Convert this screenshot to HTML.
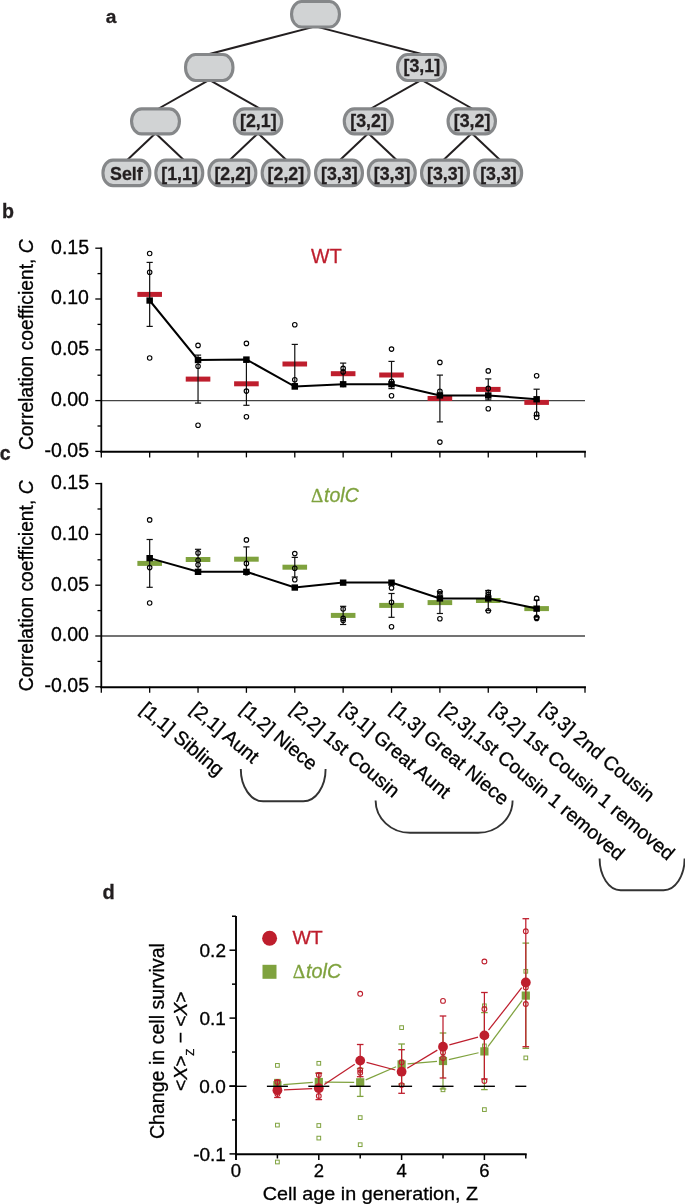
<!DOCTYPE html>
<html><head><meta charset="utf-8"><style>
html,body{margin:0;padding:0;background:#fff;}
svg{display:block;font-family:"Liberation Sans",sans-serif;will-change:transform;}
text{stroke-width:0.3px;}
</style></head><body>
<svg width="685" height="1204" viewBox="0 0 685 1204">
<rect width="685" height="1204" fill="#fff"/>
<line x1="315.50" y1="26.40" x2="208.50" y2="54.20" stroke="#231f20" stroke-width="2"/>
<line x1="315.50" y1="26.40" x2="422.50" y2="54.20" stroke="#231f20" stroke-width="2"/>
<line x1="209.25" y1="79.80" x2="158.75" y2="108.50" stroke="#231f20" stroke-width="2"/>
<line x1="209.25" y1="79.80" x2="259.75" y2="108.50" stroke="#231f20" stroke-width="2"/>
<line x1="421.50" y1="79.80" x2="371.00" y2="108.50" stroke="#231f20" stroke-width="2"/>
<line x1="421.50" y1="79.80" x2="472.00" y2="108.50" stroke="#231f20" stroke-width="2"/>
<line x1="155.50" y1="133.20" x2="127.50" y2="159.80" stroke="#231f20" stroke-width="2"/>
<line x1="155.50" y1="133.20" x2="183.50" y2="159.80" stroke="#231f20" stroke-width="2"/>
<line x1="258.05" y1="133.20" x2="230.05" y2="159.80" stroke="#231f20" stroke-width="2"/>
<line x1="258.05" y1="133.20" x2="286.05" y2="159.80" stroke="#231f20" stroke-width="2"/>
<line x1="368.30" y1="133.20" x2="340.30" y2="159.80" stroke="#231f20" stroke-width="2"/>
<line x1="368.30" y1="133.20" x2="396.30" y2="159.80" stroke="#231f20" stroke-width="2"/>
<line x1="471.75" y1="133.20" x2="443.75" y2="159.80" stroke="#231f20" stroke-width="2"/>
<line x1="471.75" y1="133.20" x2="499.75" y2="159.80" stroke="#231f20" stroke-width="2"/>
<rect x="291.55" y="1.55" width="47.90" height="25.50" rx="10" ry="12.5" fill="#d1d3d4" stroke="#858789" stroke-width="3.1"/>
<rect x="185.55" y="54.55" width="47.40" height="25.90" rx="10" ry="12.5" fill="#d1d3d4" stroke="#858789" stroke-width="3.1"/>
<rect x="397.55" y="54.55" width="47.90" height="25.90" rx="10" ry="12.5" fill="#d1d3d4" stroke="#858789" stroke-width="3.1"/>
<text x="403.51" y="71.70" font-size="17.8" font-weight="bold" font-style="normal" fill="#231f20" stroke="#231f20">[3,1]</text>
<rect x="131.55" y="108.85" width="47.90" height="25.00" rx="10" ry="12.5" fill="#d1d3d4" stroke="#858789" stroke-width="3.1"/>
<rect x="234.35" y="108.85" width="47.40" height="25.00" rx="10" ry="12.5" fill="#d1d3d4" stroke="#858789" stroke-width="3.1"/>
<text x="240.06" y="126.55" font-size="17.8" font-weight="bold" font-style="normal" fill="#231f20" stroke="#231f20">[2,1]</text>
<rect x="344.25" y="108.85" width="48.10" height="25.00" rx="10" ry="12.5" fill="#d1d3d4" stroke="#858789" stroke-width="3.1"/>
<text x="350.31" y="126.55" font-size="17.8" font-weight="bold" font-style="normal" fill="#231f20" stroke="#231f20">[3,2]</text>
<rect x="448.05" y="108.85" width="47.40" height="25.00" rx="10" ry="12.5" fill="#d1d3d4" stroke="#858789" stroke-width="3.1"/>
<text x="453.76" y="126.55" font-size="17.8" font-weight="bold" font-style="normal" fill="#231f20" stroke="#231f20">[3,2]</text>
<rect x="102.95" y="160.15" width="46.90" height="25.50" rx="10" ry="12.5" fill="#d1d3d4" stroke="#858789" stroke-width="3.1"/>
<text x="110.10" y="179.90" font-size="17.8" font-weight="bold" font-style="normal" fill="#231f20" stroke="#231f20">Self</text>
<rect x="155.85" y="160.15" width="46.90" height="25.50" rx="10" ry="12.5" fill="#d1d3d4" stroke="#858789" stroke-width="3.1"/>
<text x="161.31" y="179.90" font-size="17.8" font-weight="bold" font-style="normal" fill="#231f20" stroke="#231f20">[1,1]</text>
<rect x="208.95" y="160.15" width="46.90" height="25.50" rx="10" ry="12.5" fill="#d1d3d4" stroke="#858789" stroke-width="3.1"/>
<text x="214.41" y="179.90" font-size="17.8" font-weight="bold" font-style="normal" fill="#231f20" stroke="#231f20">[2,2]</text>
<rect x="262.15" y="160.15" width="46.90" height="25.50" rx="10" ry="12.5" fill="#d1d3d4" stroke="#858789" stroke-width="3.1"/>
<text x="267.61" y="179.90" font-size="17.8" font-weight="bold" font-style="normal" fill="#231f20" stroke="#231f20">[2,2]</text>
<rect x="315.55" y="160.15" width="46.90" height="25.50" rx="10" ry="12.5" fill="#d1d3d4" stroke="#858789" stroke-width="3.1"/>
<text x="321.01" y="179.90" font-size="17.8" font-weight="bold" font-style="normal" fill="#231f20" stroke="#231f20">[3,3]</text>
<rect x="368.35" y="160.15" width="46.90" height="25.50" rx="10" ry="12.5" fill="#d1d3d4" stroke="#858789" stroke-width="3.1"/>
<text x="373.81" y="179.90" font-size="17.8" font-weight="bold" font-style="normal" fill="#231f20" stroke="#231f20">[3,3]</text>
<rect x="421.55" y="160.15" width="46.90" height="25.50" rx="10" ry="12.5" fill="#d1d3d4" stroke="#858789" stroke-width="3.1"/>
<text x="427.01" y="179.90" font-size="17.8" font-weight="bold" font-style="normal" fill="#231f20" stroke="#231f20">[3,3]</text>
<rect x="474.75" y="160.15" width="46.90" height="25.50" rx="10" ry="12.5" fill="#d1d3d4" stroke="#858789" stroke-width="3.1"/>
<text x="480.21" y="179.90" font-size="17.8" font-weight="bold" font-style="normal" fill="#231f20" stroke="#231f20">[3,3]</text>
<text x="105.82" y="22.70" font-size="19.2" font-weight="bold" font-style="normal" fill="#231f20" stroke="#231f20">a</text>
<line x1="101.30" y1="400.60" x2="585.00" y2="400.60" stroke="#444" stroke-width="1.3"/>
<line x1="101.30" y1="247.40" x2="101.30" y2="452.40" stroke="#000" stroke-width="1.8"/>
<line x1="100.40" y1="451.80" x2="585.90" y2="451.80" stroke="#000" stroke-width="1.9"/>
<line x1="101.30" y1="451.40" x2="101.30" y2="457.40" stroke="#000" stroke-width="1.3"/>
<line x1="149.67" y1="451.40" x2="149.67" y2="457.40" stroke="#000" stroke-width="1.3"/>
<line x1="198.04" y1="451.40" x2="198.04" y2="457.40" stroke="#000" stroke-width="1.3"/>
<line x1="246.41" y1="451.40" x2="246.41" y2="457.40" stroke="#000" stroke-width="1.3"/>
<line x1="294.78" y1="451.40" x2="294.78" y2="457.40" stroke="#000" stroke-width="1.3"/>
<line x1="343.15" y1="451.40" x2="343.15" y2="457.40" stroke="#000" stroke-width="1.3"/>
<line x1="391.52" y1="451.40" x2="391.52" y2="457.40" stroke="#000" stroke-width="1.3"/>
<line x1="439.89" y1="451.40" x2="439.89" y2="457.40" stroke="#000" stroke-width="1.3"/>
<line x1="488.26" y1="451.40" x2="488.26" y2="457.40" stroke="#000" stroke-width="1.3"/>
<line x1="536.63" y1="451.40" x2="536.63" y2="457.40" stroke="#000" stroke-width="1.3"/>
<line x1="585.00" y1="451.40" x2="585.00" y2="457.40" stroke="#000" stroke-width="1.3"/>
<line x1="95.30" y1="248.20" x2="101.30" y2="248.20" stroke="#000" stroke-width="1.3"/>
<line x1="97.50" y1="273.60" x2="101.30" y2="273.60" stroke="#000" stroke-width="1.3"/>
<line x1="95.30" y1="299.00" x2="101.30" y2="299.00" stroke="#000" stroke-width="1.3"/>
<line x1="97.50" y1="324.40" x2="101.30" y2="324.40" stroke="#000" stroke-width="1.3"/>
<line x1="95.30" y1="349.80" x2="101.30" y2="349.80" stroke="#000" stroke-width="1.3"/>
<line x1="97.50" y1="375.20" x2="101.30" y2="375.20" stroke="#000" stroke-width="1.3"/>
<line x1="95.30" y1="400.60" x2="101.30" y2="400.60" stroke="#000" stroke-width="1.3"/>
<line x1="97.50" y1="426.00" x2="101.30" y2="426.00" stroke="#000" stroke-width="1.3"/>
<line x1="95.30" y1="451.40" x2="101.30" y2="451.40" stroke="#000" stroke-width="1.3"/>
<text x="51.05" y="253.60" font-size="19.5" font-weight="normal" font-style="normal" fill="#000" stroke="#000">0.15</text>
<text x="51.00" y="304.40" font-size="19.5" font-weight="normal" font-style="normal" fill="#000" stroke="#000">0.10</text>
<text x="51.05" y="355.20" font-size="19.5" font-weight="normal" font-style="normal" fill="#000" stroke="#000">0.05</text>
<text x="51.00" y="406.00" font-size="19.5" font-weight="normal" font-style="normal" fill="#000" stroke="#000">0.00</text>
<text x="44.57" y="456.80" font-size="19.5" font-weight="normal" font-style="normal" fill="#000" stroke="#000">-0.05</text>
<rect x="137.37" y="291.90" width="24.6" height="5" fill="#be1e2d"/>
<rect x="185.74" y="376.60" width="24.6" height="5" fill="#be1e2d"/>
<rect x="234.11" y="381.30" width="24.6" height="5" fill="#be1e2d"/>
<rect x="282.48" y="361.50" width="24.6" height="5" fill="#be1e2d"/>
<rect x="330.85" y="371.20" width="24.6" height="5" fill="#be1e2d"/>
<rect x="379.22" y="372.50" width="24.6" height="5" fill="#be1e2d"/>
<rect x="427.59" y="396.00" width="24.6" height="5" fill="#be1e2d"/>
<rect x="475.96" y="386.90" width="24.6" height="5" fill="#be1e2d"/>
<rect x="524.33" y="399.90" width="24.6" height="5" fill="#be1e2d"/>
<line x1="149.67" y1="262.40" x2="149.67" y2="326.40" stroke="#111" stroke-width="1.2"/>
<line x1="146.57" y1="262.40" x2="152.77" y2="262.40" stroke="#111" stroke-width="1.2"/>
<line x1="146.57" y1="326.40" x2="152.77" y2="326.40" stroke="#111" stroke-width="1.2"/>
<line x1="198.04" y1="355.10" x2="198.04" y2="403.10" stroke="#111" stroke-width="1.2"/>
<line x1="194.94" y1="355.10" x2="201.14" y2="355.10" stroke="#111" stroke-width="1.2"/>
<line x1="194.94" y1="403.10" x2="201.14" y2="403.10" stroke="#111" stroke-width="1.2"/>
<line x1="246.41" y1="362.30" x2="246.41" y2="405.30" stroke="#111" stroke-width="1.2"/>
<line x1="243.31" y1="362.30" x2="249.51" y2="362.30" stroke="#111" stroke-width="1.2"/>
<line x1="243.31" y1="405.30" x2="249.51" y2="405.30" stroke="#111" stroke-width="1.2"/>
<line x1="294.78" y1="344.40" x2="294.78" y2="383.60" stroke="#111" stroke-width="1.2"/>
<line x1="291.68" y1="344.40" x2="297.88" y2="344.40" stroke="#111" stroke-width="1.2"/>
<line x1="291.68" y1="383.60" x2="297.88" y2="383.60" stroke="#111" stroke-width="1.2"/>
<line x1="343.15" y1="363.10" x2="343.15" y2="384.30" stroke="#111" stroke-width="1.2"/>
<line x1="340.05" y1="363.10" x2="346.25" y2="363.10" stroke="#111" stroke-width="1.2"/>
<line x1="340.05" y1="384.30" x2="346.25" y2="384.30" stroke="#111" stroke-width="1.2"/>
<line x1="391.52" y1="361.40" x2="391.52" y2="388.60" stroke="#111" stroke-width="1.2"/>
<line x1="388.42" y1="361.40" x2="394.62" y2="361.40" stroke="#111" stroke-width="1.2"/>
<line x1="388.42" y1="388.60" x2="394.62" y2="388.60" stroke="#111" stroke-width="1.2"/>
<line x1="439.89" y1="375.10" x2="439.89" y2="421.90" stroke="#111" stroke-width="1.2"/>
<line x1="436.79" y1="375.10" x2="442.99" y2="375.10" stroke="#111" stroke-width="1.2"/>
<line x1="436.79" y1="421.90" x2="442.99" y2="421.90" stroke="#111" stroke-width="1.2"/>
<line x1="488.26" y1="378.90" x2="488.26" y2="399.90" stroke="#111" stroke-width="1.2"/>
<line x1="485.16" y1="378.90" x2="491.36" y2="378.90" stroke="#111" stroke-width="1.2"/>
<line x1="485.16" y1="399.90" x2="491.36" y2="399.90" stroke="#111" stroke-width="1.2"/>
<line x1="536.63" y1="389.20" x2="536.63" y2="415.60" stroke="#111" stroke-width="1.2"/>
<line x1="533.53" y1="389.20" x2="539.73" y2="389.20" stroke="#111" stroke-width="1.2"/>
<line x1="533.53" y1="415.60" x2="539.73" y2="415.60" stroke="#111" stroke-width="1.2"/>
<circle cx="149.67" cy="253.50" r="2.25" fill="none" stroke="#000" stroke-width="1.1"/>
<circle cx="149.67" cy="272.30" r="2.25" fill="none" stroke="#000" stroke-width="1.1"/>
<circle cx="149.67" cy="358.00" r="2.25" fill="none" stroke="#000" stroke-width="1.1"/>
<circle cx="198.04" cy="345.40" r="2.25" fill="none" stroke="#000" stroke-width="1.1"/>
<circle cx="198.04" cy="366.30" r="2.25" fill="none" stroke="#000" stroke-width="1.1"/>
<circle cx="198.04" cy="425.30" r="2.25" fill="none" stroke="#000" stroke-width="1.1"/>
<circle cx="246.41" cy="343.40" r="2.25" fill="none" stroke="#000" stroke-width="1.1"/>
<circle cx="246.41" cy="391.10" r="2.25" fill="none" stroke="#000" stroke-width="1.1"/>
<circle cx="246.41" cy="416.80" r="2.25" fill="none" stroke="#000" stroke-width="1.1"/>
<circle cx="294.78" cy="324.80" r="2.25" fill="none" stroke="#000" stroke-width="1.1"/>
<circle cx="294.78" cy="379.80" r="2.25" fill="none" stroke="#000" stroke-width="1.1"/>
<circle cx="294.78" cy="386.00" r="2.25" fill="none" stroke="#000" stroke-width="1.1"/>
<circle cx="343.15" cy="368.40" r="2.25" fill="none" stroke="#000" stroke-width="1.1"/>
<circle cx="343.15" cy="371.90" r="2.25" fill="none" stroke="#000" stroke-width="1.1"/>
<circle cx="343.15" cy="384.50" r="2.25" fill="none" stroke="#000" stroke-width="1.1"/>
<circle cx="391.52" cy="349.10" r="2.25" fill="none" stroke="#000" stroke-width="1.1"/>
<circle cx="391.52" cy="381.40" r="2.25" fill="none" stroke="#000" stroke-width="1.1"/>
<circle cx="391.52" cy="395.70" r="2.25" fill="none" stroke="#000" stroke-width="1.1"/>
<circle cx="439.89" cy="362.40" r="2.25" fill="none" stroke="#000" stroke-width="1.1"/>
<circle cx="439.89" cy="391.20" r="2.25" fill="none" stroke="#000" stroke-width="1.1"/>
<circle cx="439.89" cy="442.10" r="2.25" fill="none" stroke="#000" stroke-width="1.1"/>
<circle cx="488.26" cy="370.90" r="2.25" fill="none" stroke="#000" stroke-width="1.1"/>
<circle cx="488.26" cy="388.40" r="2.25" fill="none" stroke="#000" stroke-width="1.1"/>
<circle cx="488.26" cy="408.70" r="2.25" fill="none" stroke="#000" stroke-width="1.1"/>
<circle cx="536.63" cy="375.80" r="2.25" fill="none" stroke="#000" stroke-width="1.1"/>
<circle cx="536.63" cy="414.00" r="2.25" fill="none" stroke="#000" stroke-width="1.1"/>
<circle cx="536.63" cy="417.50" r="2.25" fill="none" stroke="#000" stroke-width="1.1"/>
<polyline points="149.67,300.50 198.04,360.00 246.41,359.50 294.78,386.50 343.15,384.20 391.52,384.20 439.89,395.40 488.26,395.40 536.63,399.20" fill="none" stroke="#000" stroke-width="2"/>
<rect x="146.42" y="297.40" width="6.5" height="6.3" fill="#000"/>
<rect x="194.79" y="356.90" width="6.5" height="6.3" fill="#000"/>
<rect x="243.16" y="356.40" width="6.5" height="6.3" fill="#000"/>
<rect x="291.53" y="383.40" width="6.5" height="6.3" fill="#000"/>
<rect x="339.90" y="381.10" width="6.5" height="6.3" fill="#000"/>
<rect x="388.27" y="381.10" width="6.5" height="6.3" fill="#000"/>
<rect x="436.64" y="392.30" width="6.5" height="6.3" fill="#000"/>
<rect x="485.01" y="392.30" width="6.5" height="6.3" fill="#000"/>
<rect x="533.38" y="396.10" width="6.5" height="6.3" fill="#000"/>
<line x1="101.30" y1="636.00" x2="585.00" y2="636.00" stroke="#444" stroke-width="1.3"/>
<line x1="101.30" y1="482.80" x2="101.30" y2="687.80" stroke="#000" stroke-width="1.8"/>
<line x1="100.40" y1="687.20" x2="585.90" y2="687.20" stroke="#000" stroke-width="1.9"/>
<line x1="101.30" y1="686.80" x2="101.30" y2="692.80" stroke="#000" stroke-width="1.3"/>
<line x1="149.67" y1="686.80" x2="149.67" y2="692.80" stroke="#000" stroke-width="1.3"/>
<line x1="198.04" y1="686.80" x2="198.04" y2="692.80" stroke="#000" stroke-width="1.3"/>
<line x1="246.41" y1="686.80" x2="246.41" y2="692.80" stroke="#000" stroke-width="1.3"/>
<line x1="294.78" y1="686.80" x2="294.78" y2="692.80" stroke="#000" stroke-width="1.3"/>
<line x1="343.15" y1="686.80" x2="343.15" y2="692.80" stroke="#000" stroke-width="1.3"/>
<line x1="391.52" y1="686.80" x2="391.52" y2="692.80" stroke="#000" stroke-width="1.3"/>
<line x1="439.89" y1="686.80" x2="439.89" y2="692.80" stroke="#000" stroke-width="1.3"/>
<line x1="488.26" y1="686.80" x2="488.26" y2="692.80" stroke="#000" stroke-width="1.3"/>
<line x1="536.63" y1="686.80" x2="536.63" y2="692.80" stroke="#000" stroke-width="1.3"/>
<line x1="585.00" y1="686.80" x2="585.00" y2="692.80" stroke="#000" stroke-width="1.3"/>
<line x1="95.30" y1="483.60" x2="101.30" y2="483.60" stroke="#000" stroke-width="1.3"/>
<line x1="97.50" y1="509.00" x2="101.30" y2="509.00" stroke="#000" stroke-width="1.3"/>
<line x1="95.30" y1="534.40" x2="101.30" y2="534.40" stroke="#000" stroke-width="1.3"/>
<line x1="97.50" y1="559.80" x2="101.30" y2="559.80" stroke="#000" stroke-width="1.3"/>
<line x1="95.30" y1="585.20" x2="101.30" y2="585.20" stroke="#000" stroke-width="1.3"/>
<line x1="97.50" y1="610.60" x2="101.30" y2="610.60" stroke="#000" stroke-width="1.3"/>
<line x1="95.30" y1="636.00" x2="101.30" y2="636.00" stroke="#000" stroke-width="1.3"/>
<line x1="97.50" y1="661.40" x2="101.30" y2="661.40" stroke="#000" stroke-width="1.3"/>
<line x1="95.30" y1="686.80" x2="101.30" y2="686.80" stroke="#000" stroke-width="1.3"/>
<text x="51.05" y="489.00" font-size="19.5" font-weight="normal" font-style="normal" fill="#000" stroke="#000">0.15</text>
<text x="51.00" y="539.80" font-size="19.5" font-weight="normal" font-style="normal" fill="#000" stroke="#000">0.10</text>
<text x="51.05" y="590.60" font-size="19.5" font-weight="normal" font-style="normal" fill="#000" stroke="#000">0.05</text>
<text x="51.00" y="641.40" font-size="19.5" font-weight="normal" font-style="normal" fill="#000" stroke="#000">0.00</text>
<text x="44.57" y="692.20" font-size="19.5" font-weight="normal" font-style="normal" fill="#000" stroke="#000">-0.05</text>
<rect x="137.37" y="560.90" width="24.6" height="5" fill="#7fa23e"/>
<rect x="185.74" y="557.00" width="24.6" height="5" fill="#7fa23e"/>
<rect x="234.11" y="556.70" width="24.6" height="5" fill="#7fa23e"/>
<rect x="282.48" y="564.70" width="24.6" height="5" fill="#7fa23e"/>
<rect x="330.85" y="612.90" width="24.6" height="5" fill="#7fa23e"/>
<rect x="379.22" y="602.90" width="24.6" height="5" fill="#7fa23e"/>
<rect x="427.59" y="600.10" width="24.6" height="5" fill="#7fa23e"/>
<rect x="475.96" y="598.00" width="24.6" height="5" fill="#7fa23e"/>
<rect x="524.33" y="606.10" width="24.6" height="5" fill="#7fa23e"/>
<line x1="149.67" y1="539.50" x2="149.67" y2="587.30" stroke="#111" stroke-width="1.2"/>
<line x1="146.57" y1="539.50" x2="152.77" y2="539.50" stroke="#111" stroke-width="1.2"/>
<line x1="146.57" y1="587.30" x2="152.77" y2="587.30" stroke="#111" stroke-width="1.2"/>
<line x1="198.04" y1="549.30" x2="198.04" y2="569.70" stroke="#111" stroke-width="1.2"/>
<line x1="194.94" y1="549.30" x2="201.14" y2="549.30" stroke="#111" stroke-width="1.2"/>
<line x1="194.94" y1="569.70" x2="201.14" y2="569.70" stroke="#111" stroke-width="1.2"/>
<line x1="246.41" y1="546.90" x2="246.41" y2="571.50" stroke="#111" stroke-width="1.2"/>
<line x1="243.31" y1="546.90" x2="249.51" y2="546.90" stroke="#111" stroke-width="1.2"/>
<line x1="243.31" y1="571.50" x2="249.51" y2="571.50" stroke="#111" stroke-width="1.2"/>
<line x1="294.78" y1="557.40" x2="294.78" y2="577.00" stroke="#111" stroke-width="1.2"/>
<line x1="291.68" y1="557.40" x2="297.88" y2="557.40" stroke="#111" stroke-width="1.2"/>
<line x1="291.68" y1="577.00" x2="297.88" y2="577.00" stroke="#111" stroke-width="1.2"/>
<line x1="343.15" y1="606.30" x2="343.15" y2="624.50" stroke="#111" stroke-width="1.2"/>
<line x1="340.05" y1="606.30" x2="346.25" y2="606.30" stroke="#111" stroke-width="1.2"/>
<line x1="340.05" y1="624.50" x2="346.25" y2="624.50" stroke="#111" stroke-width="1.2"/>
<line x1="391.52" y1="593.50" x2="391.52" y2="617.30" stroke="#111" stroke-width="1.2"/>
<line x1="388.42" y1="593.50" x2="394.62" y2="593.50" stroke="#111" stroke-width="1.2"/>
<line x1="388.42" y1="617.30" x2="394.62" y2="617.30" stroke="#111" stroke-width="1.2"/>
<line x1="439.89" y1="591.70" x2="439.89" y2="613.50" stroke="#111" stroke-width="1.2"/>
<line x1="436.79" y1="591.70" x2="442.99" y2="591.70" stroke="#111" stroke-width="1.2"/>
<line x1="436.79" y1="613.50" x2="442.99" y2="613.50" stroke="#111" stroke-width="1.2"/>
<line x1="488.26" y1="590.50" x2="488.26" y2="610.50" stroke="#111" stroke-width="1.2"/>
<line x1="485.16" y1="590.50" x2="491.36" y2="590.50" stroke="#111" stroke-width="1.2"/>
<line x1="485.16" y1="610.50" x2="491.36" y2="610.50" stroke="#111" stroke-width="1.2"/>
<line x1="536.63" y1="600.10" x2="536.63" y2="617.10" stroke="#111" stroke-width="1.2"/>
<line x1="533.53" y1="600.10" x2="539.73" y2="600.10" stroke="#111" stroke-width="1.2"/>
<line x1="533.53" y1="617.10" x2="539.73" y2="617.10" stroke="#111" stroke-width="1.2"/>
<circle cx="149.67" cy="519.90" r="2.25" fill="none" stroke="#000" stroke-width="1.1"/>
<circle cx="149.67" cy="567.60" r="2.25" fill="none" stroke="#000" stroke-width="1.1"/>
<circle cx="149.67" cy="603.00" r="2.25" fill="none" stroke="#000" stroke-width="1.1"/>
<circle cx="198.04" cy="552.90" r="2.25" fill="none" stroke="#000" stroke-width="1.1"/>
<circle cx="198.04" cy="560.20" r="2.25" fill="none" stroke="#000" stroke-width="1.1"/>
<circle cx="198.04" cy="564.80" r="2.25" fill="none" stroke="#000" stroke-width="1.1"/>
<circle cx="246.41" cy="539.90" r="2.25" fill="none" stroke="#000" stroke-width="1.1"/>
<circle cx="246.41" cy="563.40" r="2.25" fill="none" stroke="#000" stroke-width="1.1"/>
<circle cx="246.41" cy="572.80" r="2.25" fill="none" stroke="#000" stroke-width="1.1"/>
<circle cx="294.78" cy="553.60" r="2.25" fill="none" stroke="#000" stroke-width="1.1"/>
<circle cx="294.78" cy="568.30" r="2.25" fill="none" stroke="#000" stroke-width="1.1"/>
<circle cx="294.78" cy="579.80" r="2.25" fill="none" stroke="#000" stroke-width="1.1"/>
<circle cx="343.15" cy="609.00" r="2.25" fill="none" stroke="#000" stroke-width="1.1"/>
<circle cx="343.15" cy="618.40" r="2.25" fill="none" stroke="#000" stroke-width="1.1"/>
<circle cx="343.15" cy="620.50" r="2.25" fill="none" stroke="#000" stroke-width="1.1"/>
<circle cx="391.52" cy="587.90" r="2.25" fill="none" stroke="#000" stroke-width="1.1"/>
<circle cx="391.52" cy="602.30" r="2.25" fill="none" stroke="#000" stroke-width="1.1"/>
<circle cx="391.52" cy="626.80" r="2.25" fill="none" stroke="#000" stroke-width="1.1"/>
<circle cx="439.89" cy="591.70" r="2.25" fill="none" stroke="#000" stroke-width="1.1"/>
<circle cx="439.89" cy="594.20" r="2.25" fill="none" stroke="#000" stroke-width="1.1"/>
<circle cx="439.89" cy="618.70" r="2.25" fill="none" stroke="#000" stroke-width="1.1"/>
<circle cx="488.26" cy="592.40" r="2.25" fill="none" stroke="#000" stroke-width="1.1"/>
<circle cx="488.26" cy="594.50" r="2.25" fill="none" stroke="#000" stroke-width="1.1"/>
<circle cx="488.26" cy="610.70" r="2.25" fill="none" stroke="#000" stroke-width="1.1"/>
<circle cx="536.63" cy="598.40" r="2.25" fill="none" stroke="#000" stroke-width="1.1"/>
<circle cx="536.63" cy="617.30" r="2.25" fill="none" stroke="#000" stroke-width="1.1"/>
<circle cx="536.63" cy="618.40" r="2.25" fill="none" stroke="#000" stroke-width="1.1"/>
<polyline points="149.67,558.10 198.04,571.80 246.41,571.80 294.78,587.50 343.15,582.60 391.52,582.60 439.89,598.40 488.26,598.40 536.63,608.60" fill="none" stroke="#000" stroke-width="2"/>
<rect x="146.42" y="555.00" width="6.5" height="6.3" fill="#000"/>
<rect x="194.79" y="568.70" width="6.5" height="6.3" fill="#000"/>
<rect x="243.16" y="568.70" width="6.5" height="6.3" fill="#000"/>
<rect x="291.53" y="584.40" width="6.5" height="6.3" fill="#000"/>
<rect x="339.90" y="579.50" width="6.5" height="6.3" fill="#000"/>
<rect x="388.27" y="579.50" width="6.5" height="6.3" fill="#000"/>
<rect x="436.64" y="595.30" width="6.5" height="6.3" fill="#000"/>
<rect x="485.01" y="595.30" width="6.5" height="6.3" fill="#000"/>
<rect x="533.38" y="605.50" width="6.5" height="6.3" fill="#000"/>
<text x="2.03" y="217.60" font-size="19.6" font-weight="bold" font-style="normal" fill="#231f20" stroke="#231f20">b</text>
<text x="-0.28" y="460.20" font-size="19.6" font-weight="bold" font-style="normal" fill="#231f20" stroke="#231f20">c</text>
<text x="311.10" y="262.90" font-size="20" font-weight="normal" font-style="normal" fill="#be1e2d" stroke="#be1e2d" textLength="30.53" lengthAdjust="spacingAndGlyphs">WT</text>
<text x="311.0" y="501.8" font-size="19.5" fill="#7fa23e" stroke="#7fa23e"><tspan font-family="Liberation Serif" font-size="19">&#916;</tspan><tspan font-style="italic" dx="0.9">tolC</tspan></text>
<text transform="translate(33.20,344.70) rotate(-90)" text-anchor="middle" stroke="#000" font-size="19.3">Correlation coefficient, <tspan font-style="italic">C</tspan></text>
<text transform="translate(33.20,585.80) rotate(-90)" text-anchor="middle" stroke="#000" font-size="19.3">Correlation coefficient, <tspan font-style="italic">C</tspan></text>
<text transform="translate(148.10,700.60) rotate(40)" x="0" y="0" dy="0.72em" stroke="#000" font-size="19.5">[1,1] Sibling</text>
<text transform="translate(198.10,700.60) rotate(40)" x="0" y="0" dy="0.72em" stroke="#000" font-size="19.5">[2,1] Aunt</text>
<text transform="translate(248.10,700.60) rotate(40)" x="0" y="0" dy="0.72em" stroke="#000" font-size="19.5">[1,2] Niece</text>
<text transform="translate(298.10,700.60) rotate(40)" x="0" y="0" dy="0.72em" stroke="#000" font-size="19.5">[2,2] 1st Cousin</text>
<text transform="translate(348.10,700.60) rotate(40)" x="0" y="0" dy="0.72em" stroke="#000" font-size="19.5">[3,1] Great Aunt</text>
<text transform="translate(398.10,700.60) rotate(40)" x="0" y="0" dy="0.72em" stroke="#000" font-size="19.5">[1,3] Great Niece</text>
<text transform="translate(448.10,700.60) rotate(40)" x="0" y="0" dy="0.72em" stroke="#000" font-size="19.5">[2,3],1st Cousin 1 removed</text>
<text transform="translate(498.10,700.60) rotate(40)" x="0" y="0" dy="0.72em" stroke="#000" font-size="19.5">[3,2] 1st Cousin 1 removed</text>
<text transform="translate(548.10,700.60) rotate(40)" x="0" y="0" dy="0.72em" stroke="#000" font-size="19.5">[3,3] 2nd Cousin</text>
<path d="M240.8,769 A22.3,32.299999999999955 0 0 0 263.1,801.3 L303.3,801.3 A22.3,32.299999999999955 0 0 0 325.6,769" fill="none" stroke="#333" stroke-width="1.9"/>
<path d="M375.6,800.5 A34.5,32.299999999999955 0 0 0 410.1,832.8 L478.1,832.8 A34.5,32.299999999999955 0 0 0 512.6,800.5" fill="none" stroke="#333" stroke-width="1.9"/>
<path d="M599.6,858.5 A21.0,31.700000000000045 0 0 0 620.6,890.2 L663.6,890.2 A21.0,31.700000000000045 0 0 0 684.6,858.5" fill="none" stroke="#333" stroke-width="1.9"/>
<text x="102.60" y="899.30" font-size="20.0" font-weight="bold" font-style="normal" fill="#231f20" stroke="#231f20">d</text>
<line x1="236.00" y1="916.00" x2="236.00" y2="1160.00" stroke="#000" stroke-width="1.9"/>
<line x1="235.00" y1="1154.20" x2="526.70" y2="1154.20" stroke="#000" stroke-width="1.9"/>
<line x1="277.40" y1="1154.20" x2="277.40" y2="1158.50" stroke="#000" stroke-width="1.5"/>
<line x1="318.80" y1="1154.20" x2="318.80" y2="1160.00" stroke="#000" stroke-width="1.5"/>
<line x1="360.20" y1="1154.20" x2="360.20" y2="1158.50" stroke="#000" stroke-width="1.5"/>
<line x1="401.60" y1="1154.20" x2="401.60" y2="1160.00" stroke="#000" stroke-width="1.5"/>
<line x1="443.00" y1="1154.20" x2="443.00" y2="1158.50" stroke="#000" stroke-width="1.5"/>
<line x1="484.40" y1="1154.20" x2="484.40" y2="1160.00" stroke="#000" stroke-width="1.5"/>
<line x1="525.80" y1="1154.20" x2="525.80" y2="1158.50" stroke="#000" stroke-width="1.5"/>
<line x1="232.00" y1="916.25" x2="236.00" y2="916.25" stroke="#000" stroke-width="1.5"/>
<line x1="229.50" y1="950.20" x2="236.00" y2="950.20" stroke="#000" stroke-width="1.5"/>
<line x1="232.00" y1="984.15" x2="236.00" y2="984.15" stroke="#000" stroke-width="1.5"/>
<line x1="229.50" y1="1018.10" x2="236.00" y2="1018.10" stroke="#000" stroke-width="1.5"/>
<line x1="232.00" y1="1052.05" x2="236.00" y2="1052.05" stroke="#000" stroke-width="1.5"/>
<line x1="229.50" y1="1086.00" x2="236.00" y2="1086.00" stroke="#000" stroke-width="1.5"/>
<line x1="232.00" y1="1119.95" x2="236.00" y2="1119.95" stroke="#000" stroke-width="1.5"/>
<line x1="229.50" y1="1153.90" x2="236.00" y2="1153.90" stroke="#000" stroke-width="1.5"/>
<text x="199.54" y="957.20" font-size="19" font-weight="normal" font-style="normal" fill="#000" stroke="#000">0.2</text>
<text x="199.49" y="1025.10" font-size="19" font-weight="normal" font-style="normal" fill="#000" stroke="#000">0.1</text>
<text x="199.30" y="1093.00" font-size="19" font-weight="normal" font-style="normal" fill="#000" stroke="#000">0.0</text>
<text x="193.18" y="1160.90" font-size="19" font-weight="normal" font-style="normal" fill="#000" stroke="#000">-0.1</text>
<text x="230.84" y="1177.30" font-size="18.5" font-weight="normal" font-style="normal" fill="#000" stroke="#000">0</text>
<text x="313.67" y="1177.30" font-size="18.5" font-weight="normal" font-style="normal" fill="#000" stroke="#000">2</text>
<text x="396.51" y="1177.30" font-size="18.5" font-weight="normal" font-style="normal" fill="#000" stroke="#000">4</text>
<text x="479.20" y="1177.30" font-size="18.5" font-weight="normal" font-style="normal" fill="#000" stroke="#000">6</text>
<text x="262.81" y="1200.40" font-size="19" font-weight="normal" font-style="normal" fill="#000" stroke="#000" textLength="215.30" lengthAdjust="spacingAndGlyphs">Cell age in generation, Z</text>
<text transform="translate(163.6,1041.1) rotate(-90)" text-anchor="middle" stroke="#000" font-size="19.6">Change in cell survival</text>
<text transform="translate(186.6,1090.9) rotate(-90)" stroke="#000" font-size="19.2">&lt;<tspan font-style="italic">X</tspan>&gt;<tspan font-size="11.5" dy="7">Z</tspan><tspan dy="-7"> &#8722; &lt;</tspan><tspan font-style="italic">X</tspan>&gt;</text>
<circle cx="269.6" cy="938.2" r="7.5" fill="#be1e2d"/>
<text x="292.40" y="944.30" font-size="18.5" font-weight="normal" font-style="normal" fill="#be1e2d" stroke="#be1e2d" textLength="30.43" lengthAdjust="spacingAndGlyphs">WT</text>
<rect x="262.5" y="964.8" width="14" height="14" fill="#7fa23e"/>
<text x="292.8" y="978.2" font-size="19.8" fill="#7fa23e" stroke="#7fa23e"><tspan font-family="Liberation Serif" font-size="19.3">&#916;</tspan><tspan font-style="italic" dx="0.9">tolC</tspan></text>
<line x1="283.38" y1="1084.74" x2="312.82" y2="1082.46" stroke="#7fa23e" stroke-width="1.25"/>
<line x1="324.80" y1="1082.04" x2="354.20" y2="1082.26" stroke="#7fa23e" stroke-width="1.25"/>
<line x1="365.71" y1="1079.92" x2="396.09" y2="1066.78" stroke="#7fa23e" stroke-width="1.25"/>
<line x1="407.58" y1="1063.91" x2="437.02" y2="1061.49" stroke="#7fa23e" stroke-width="1.25"/>
<line x1="448.84" y1="1059.64" x2="478.56" y2="1052.76" stroke="#7fa23e" stroke-width="1.25"/>
<line x1="487.98" y1="1046.58" x2="522.22" y2="1000.42" stroke="#7fa23e" stroke-width="1.25"/>
<line x1="277.40" y1="1079.50" x2="277.40" y2="1090.50" stroke="#7fa23e" stroke-width="1.25"/>
<line x1="274.10" y1="1079.50" x2="280.70" y2="1079.50" stroke="#7fa23e" stroke-width="1.3"/>
<line x1="274.10" y1="1090.50" x2="280.70" y2="1090.50" stroke="#7fa23e" stroke-width="1.3"/>
<rect x="275.55" y="1063.55" width="3.7" height="3.7" fill="none" stroke="#7fa23e" stroke-width="1.0"/>
<rect x="275.55" y="1123.25" width="3.7" height="3.7" fill="none" stroke="#7fa23e" stroke-width="1.0"/>
<rect x="275.55" y="1160.15" width="3.7" height="3.7" fill="none" stroke="#7fa23e" stroke-width="1.0"/>
<line x1="318.80" y1="1073.00" x2="318.80" y2="1091.00" stroke="#7fa23e" stroke-width="1.25"/>
<line x1="315.50" y1="1073.00" x2="322.10" y2="1073.00" stroke="#7fa23e" stroke-width="1.3"/>
<line x1="315.50" y1="1091.00" x2="322.10" y2="1091.00" stroke="#7fa23e" stroke-width="1.3"/>
<rect x="316.95" y="1061.45" width="3.7" height="3.7" fill="none" stroke="#7fa23e" stroke-width="1.0"/>
<rect x="316.95" y="1123.65" width="3.7" height="3.7" fill="none" stroke="#7fa23e" stroke-width="1.0"/>
<rect x="316.95" y="1136.25" width="3.7" height="3.7" fill="none" stroke="#7fa23e" stroke-width="1.0"/>
<line x1="360.20" y1="1068.40" x2="360.20" y2="1096.40" stroke="#7fa23e" stroke-width="1.25"/>
<line x1="356.90" y1="1068.40" x2="363.50" y2="1068.40" stroke="#7fa23e" stroke-width="1.3"/>
<line x1="356.90" y1="1096.40" x2="363.50" y2="1096.40" stroke="#7fa23e" stroke-width="1.3"/>
<rect x="358.35" y="1115.75" width="3.7" height="3.7" fill="none" stroke="#7fa23e" stroke-width="1.0"/>
<rect x="358.35" y="1142.85" width="3.7" height="3.7" fill="none" stroke="#7fa23e" stroke-width="1.0"/>
<line x1="401.60" y1="1044.00" x2="401.60" y2="1084.00" stroke="#7fa23e" stroke-width="1.25"/>
<line x1="398.30" y1="1044.00" x2="404.90" y2="1044.00" stroke="#7fa23e" stroke-width="1.3"/>
<line x1="398.30" y1="1084.00" x2="404.90" y2="1084.00" stroke="#7fa23e" stroke-width="1.3"/>
<rect x="399.75" y="1025.75" width="3.7" height="3.7" fill="none" stroke="#7fa23e" stroke-width="1.0"/>
<rect x="399.75" y="1060.15" width="3.7" height="3.7" fill="none" stroke="#7fa23e" stroke-width="1.0"/>
<line x1="443.00" y1="1033.00" x2="443.00" y2="1089.00" stroke="#7fa23e" stroke-width="1.25"/>
<line x1="439.70" y1="1033.00" x2="446.30" y2="1033.00" stroke="#7fa23e" stroke-width="1.3"/>
<line x1="439.70" y1="1089.00" x2="446.30" y2="1089.00" stroke="#7fa23e" stroke-width="1.3"/>
<rect x="441.15" y="1087.95" width="3.7" height="3.7" fill="none" stroke="#7fa23e" stroke-width="1.0"/>
<rect x="441.15" y="1056.15" width="3.7" height="3.7" fill="none" stroke="#7fa23e" stroke-width="1.0"/>
<line x1="484.40" y1="1012.60" x2="484.40" y2="1089.60" stroke="#7fa23e" stroke-width="1.25"/>
<line x1="481.10" y1="1012.60" x2="487.70" y2="1012.60" stroke="#7fa23e" stroke-width="1.3"/>
<line x1="481.10" y1="1089.60" x2="487.70" y2="1089.60" stroke="#7fa23e" stroke-width="1.3"/>
<rect x="482.55" y="1003.95" width="3.7" height="3.7" fill="none" stroke="#7fa23e" stroke-width="1.0"/>
<rect x="482.55" y="1044.05" width="3.7" height="3.7" fill="none" stroke="#7fa23e" stroke-width="1.0"/>
<rect x="482.55" y="1107.75" width="3.7" height="3.7" fill="none" stroke="#7fa23e" stroke-width="1.0"/>
<line x1="525.80" y1="943.10" x2="525.80" y2="1048.30" stroke="#7fa23e" stroke-width="1.25"/>
<line x1="522.50" y1="943.10" x2="529.10" y2="943.10" stroke="#7fa23e" stroke-width="1.3"/>
<line x1="522.50" y1="1048.30" x2="529.10" y2="1048.30" stroke="#7fa23e" stroke-width="1.3"/>
<rect x="523.95" y="969.45" width="3.7" height="3.7" fill="none" stroke="#7fa23e" stroke-width="1.0"/>
<rect x="523.95" y="1056.05" width="3.7" height="3.7" fill="none" stroke="#7fa23e" stroke-width="1.0"/>
<rect x="273.30" y="1081.10" width="8.2" height="8.2" fill="#7fa23e"/>
<rect x="314.70" y="1077.90" width="8.2" height="8.2" fill="#7fa23e"/>
<rect x="356.10" y="1078.20" width="8.2" height="8.2" fill="#7fa23e"/>
<rect x="397.50" y="1060.30" width="8.2" height="8.2" fill="#7fa23e"/>
<rect x="438.90" y="1056.90" width="8.2" height="8.2" fill="#7fa23e"/>
<rect x="480.30" y="1047.30" width="8.2" height="8.2" fill="#7fa23e"/>
<rect x="521.70" y="991.50" width="8.2" height="8.2" fill="#7fa23e"/>
<line x1="283.99" y1="1089.97" x2="312.21" y2="1088.53" stroke="#be1e2d" stroke-width="1.25"/>
<line x1="324.29" y1="1084.54" x2="354.71" y2="1064.26" stroke="#be1e2d" stroke-width="1.25"/>
<line x1="366.57" y1="1062.31" x2="395.23" y2="1069.99" stroke="#be1e2d" stroke-width="1.25"/>
<line x1="407.25" y1="1068.29" x2="437.35" y2="1050.11" stroke="#be1e2d" stroke-width="1.25"/>
<line x1="449.37" y1="1044.96" x2="478.03" y2="1037.14" stroke="#be1e2d" stroke-width="1.25"/>
<line x1="488.47" y1="1030.20" x2="521.73" y2="987.70" stroke="#be1e2d" stroke-width="1.25"/>
<line x1="277.40" y1="1080.60" x2="277.40" y2="1097.50" stroke="#be1e2d" stroke-width="1.25"/>
<line x1="274.10" y1="1080.60" x2="280.70" y2="1080.60" stroke="#be1e2d" stroke-width="1.3"/>
<line x1="274.10" y1="1097.50" x2="280.70" y2="1097.50" stroke="#be1e2d" stroke-width="1.3"/>
<circle cx="277.40" cy="1082.00" r="2.4" fill="none" stroke="#be1e2d" stroke-width="1.1"/>
<circle cx="277.40" cy="1094.00" r="2.4" fill="none" stroke="#be1e2d" stroke-width="1.1"/>
<line x1="318.80" y1="1073.30" x2="318.80" y2="1099.60" stroke="#be1e2d" stroke-width="1.25"/>
<line x1="315.50" y1="1073.30" x2="322.10" y2="1073.30" stroke="#be1e2d" stroke-width="1.3"/>
<line x1="315.50" y1="1099.60" x2="322.10" y2="1099.60" stroke="#be1e2d" stroke-width="1.3"/>
<circle cx="318.80" cy="1075.00" r="2.4" fill="none" stroke="#be1e2d" stroke-width="1.1"/>
<circle cx="318.80" cy="1096.00" r="2.4" fill="none" stroke="#be1e2d" stroke-width="1.1"/>
<line x1="360.20" y1="1044.50" x2="360.20" y2="1076.70" stroke="#be1e2d" stroke-width="1.25"/>
<line x1="356.90" y1="1044.50" x2="363.50" y2="1044.50" stroke="#be1e2d" stroke-width="1.3"/>
<line x1="356.90" y1="1076.70" x2="363.50" y2="1076.70" stroke="#be1e2d" stroke-width="1.3"/>
<circle cx="360.20" cy="993.80" r="2.4" fill="none" stroke="#be1e2d" stroke-width="1.1"/>
<circle cx="360.20" cy="1070.00" r="2.4" fill="none" stroke="#be1e2d" stroke-width="1.1"/>
<circle cx="360.20" cy="1072.80" r="2.4" fill="none" stroke="#be1e2d" stroke-width="1.1"/>
<line x1="401.60" y1="1049.70" x2="401.60" y2="1093.30" stroke="#be1e2d" stroke-width="1.25"/>
<line x1="398.30" y1="1049.70" x2="404.90" y2="1049.70" stroke="#be1e2d" stroke-width="1.3"/>
<line x1="398.30" y1="1093.30" x2="404.90" y2="1093.30" stroke="#be1e2d" stroke-width="1.3"/>
<circle cx="401.60" cy="1085.10" r="2.4" fill="none" stroke="#be1e2d" stroke-width="1.1"/>
<circle cx="401.60" cy="1062.30" r="2.4" fill="none" stroke="#be1e2d" stroke-width="1.1"/>
<line x1="443.00" y1="1016.00" x2="443.00" y2="1078.00" stroke="#be1e2d" stroke-width="1.25"/>
<line x1="439.70" y1="1016.00" x2="446.30" y2="1016.00" stroke="#be1e2d" stroke-width="1.3"/>
<line x1="439.70" y1="1078.00" x2="446.30" y2="1078.00" stroke="#be1e2d" stroke-width="1.3"/>
<circle cx="443.00" cy="1000.90" r="2.4" fill="none" stroke="#be1e2d" stroke-width="1.1"/>
<circle cx="443.00" cy="1052.40" r="2.4" fill="none" stroke="#be1e2d" stroke-width="1.1"/>
<circle cx="443.00" cy="1058.10" r="2.4" fill="none" stroke="#be1e2d" stroke-width="1.1"/>
<line x1="484.40" y1="992.50" x2="484.40" y2="1079.00" stroke="#be1e2d" stroke-width="1.25"/>
<line x1="481.10" y1="992.50" x2="487.70" y2="992.50" stroke="#be1e2d" stroke-width="1.3"/>
<line x1="481.10" y1="1079.00" x2="487.70" y2="1079.00" stroke="#be1e2d" stroke-width="1.3"/>
<circle cx="484.40" cy="961.50" r="2.4" fill="none" stroke="#be1e2d" stroke-width="1.1"/>
<circle cx="484.40" cy="1008.90" r="2.4" fill="none" stroke="#be1e2d" stroke-width="1.1"/>
<circle cx="484.40" cy="1081.00" r="2.4" fill="none" stroke="#be1e2d" stroke-width="1.1"/>
<line x1="525.80" y1="918.70" x2="525.80" y2="1046.70" stroke="#be1e2d" stroke-width="1.25"/>
<line x1="522.50" y1="918.70" x2="529.10" y2="918.70" stroke="#be1e2d" stroke-width="1.3"/>
<line x1="522.50" y1="1046.70" x2="529.10" y2="1046.70" stroke="#be1e2d" stroke-width="1.3"/>
<circle cx="525.80" cy="931.30" r="2.4" fill="none" stroke="#be1e2d" stroke-width="1.1"/>
<circle cx="525.80" cy="987.40" r="2.4" fill="none" stroke="#be1e2d" stroke-width="1.1"/>
<circle cx="525.80" cy="1004.00" r="2.4" fill="none" stroke="#be1e2d" stroke-width="1.1"/>
<circle cx="277.40" cy="1090.30" r="4.9" fill="#be1e2d"/>
<circle cx="318.80" cy="1088.20" r="4.9" fill="#be1e2d"/>
<circle cx="360.20" cy="1060.60" r="4.9" fill="#be1e2d"/>
<circle cx="401.60" cy="1071.70" r="4.9" fill="#be1e2d"/>
<circle cx="443.00" cy="1046.70" r="4.9" fill="#be1e2d"/>
<circle cx="484.40" cy="1035.40" r="4.9" fill="#be1e2d"/>
<circle cx="525.80" cy="982.50" r="4.9" fill="#be1e2d"/>
<line x1="229.40" y1="1086.30" x2="246.50" y2="1086.30" stroke="#000" stroke-width="1.4"/>
<line x1="266.90" y1="1086.30" x2="287.90" y2="1086.30" stroke="#000" stroke-width="1.4"/>
<line x1="308.30" y1="1086.30" x2="329.30" y2="1086.30" stroke="#000" stroke-width="1.4"/>
<line x1="349.70" y1="1086.30" x2="370.70" y2="1086.30" stroke="#000" stroke-width="1.4"/>
<line x1="391.10" y1="1086.30" x2="412.10" y2="1086.30" stroke="#000" stroke-width="1.4"/>
<line x1="432.50" y1="1086.30" x2="453.50" y2="1086.30" stroke="#000" stroke-width="1.4"/>
<line x1="473.90" y1="1086.30" x2="494.90" y2="1086.30" stroke="#000" stroke-width="1.4"/>
<line x1="515.30" y1="1086.30" x2="526.30" y2="1086.30" stroke="#000" stroke-width="1.4"/>
</svg>
</body></html>
